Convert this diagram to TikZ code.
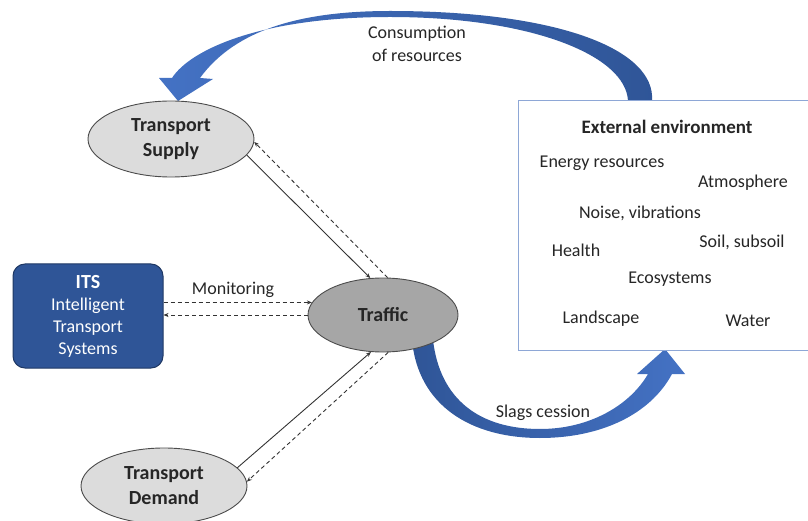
\documentclass[tikz,border=0pt]{standalone}
\usepackage{fontspec}
\setmainfont{Carlito}
\usetikzlibrary{shapes.geometric,arrows.meta}
\definecolor{darkblue}{HTML}{2F5597}
\definecolor{midblue}{HTML}{4472C4}
\definecolor{itsborder}{HTML}{1F3864}
\definecolor{boxblue}{HTML}{8EA7D6}
\definecolor{lgray}{HTML}{DCDCDC}
\definecolor{mgray}{HTML}{A6A6A6}
\definecolor{txt}{HTML}{262626}
\begin{document}
\begin{tikzpicture}[x=1pt,y=-1pt,
  every node/.style={font=\fontsize{18}{23}\selectfont, text=txt},
  ell/.style={ellipse, draw=black!70, line width=0.9pt, inner sep=0pt, align=center,
    font=\fontsize{20}{25}\selectfont\bfseries},
  solidarrow/.style={draw=black!80, line width=0.9pt, -{Stealth[length=5pt,width=4pt]}},
  dasharrow/.style={draw=black!80, line width=0.9pt, dash pattern=on 4pt off 3pt,
    -{Stealth[length=5pt,width=4pt]}},
  envbox/.style={draw=boxblue, fill=white, line width=1.3pt, inner sep=0pt},
  envtext/.style={inner sep=0pt}
]
\useasboundingbox (0,0) rectangle (808,521);

% top curved arrow (consumption of resources)
\shade[left color=midblue, right color=darkblue]
  (652,101) .. controls (656,50) and (560,11) .. (390,11)
  .. controls (300,11) and (235,30) .. (200,78)
  -- (213,79) -- (178,101) -- (159,78) -- (172,78)
  .. controls (190,50) and (260,17) .. (390,17)
  .. controls (530,17) and (626,55) .. (628,101) -- cycle;

% bottom curved arrow (slags cession)
\shade[left color=darkblue, right color=midblue]
  (412,340) .. controls (418,405) and (470,438) .. (540,438)
  .. controls (600,438) and (650,415) .. (672,374)
  -- (685,374) -- (665,349) -- (637,374) -- (648,374)
  .. controls (630,405) and (590,429) .. (540,429)
  .. controls (480,429) and (440,400) .. (433,340) -- cycle;

% environment box
\node[envbox, minimum width=300pt, minimum height=250pt, anchor=north west] (env) at (518,100) {};
\node[envtext, font=\fontsize{19}{23}\selectfont\bfseries] (envt) at (667,127) {External environment};
\node[envtext] (e1) at (602,163) {Energy resources};
\node[envtext] (e2) at (743,183) {Atmosphere};
\node[envtext] (e3) at (640,213) {Noise, vibrations};
\node[envtext] (e4) at (576,250) {Health};
\node[envtext] (e5) at (742,242) {Soil, subsoil};
\node[envtext] (e6) at (670,279) {Ecosystems};
\node[envtext] (e7) at (601,319) {Landscape};
\node[envtext] (e8) at (748,321) {Water};

% ellipses
\node[ell, fill=lgray, minimum width=166pt, minimum height=76pt] (sup) at (171,139) {Transport\\Supply};
\node[ell, fill=mgray, minimum width=150pt, minimum height=74pt] (tr) at (383,315) {Traffic};
\node[ell, fill=lgray, minimum width=166pt, minimum height=76pt] (dem) at (164,486) {Transport\\Demand};

% ITS box
\node[draw=itsborder, line width=1pt, fill=darkblue, rounded corners=12pt,
  minimum width=150pt, minimum height=104pt, text=white, align=center,
  font=\fontsize{18}{22}\selectfont] (its) at (88,316)
  {{\fontsize{20}{26}\selectfont\bfseries ITS}\\Intelligent\\Transport\\Systems};

% connectors
\draw[solidarrow] (sup.-12) -- (tr.109);
\draw[dasharrow] (tr.83) -- (sup.-2);
\draw[solidarrow] (dem.14) -- (tr.-108);
\draw[dasharrow] (tr.-82) -- (dem.3);
\draw[dasharrow] (its.east |- tr.170) -- (tr.170);
\draw[dasharrow] (tr.west) -- (its.east |- tr.west);

% labels
\node (mon) at (233,290) {Monitoring};
\node[align=center] (cons) at (417,44) {Consumption\\of resources};
\node (slag) at (543,413) {Slags cession};
\end{tikzpicture}
\end{document}
